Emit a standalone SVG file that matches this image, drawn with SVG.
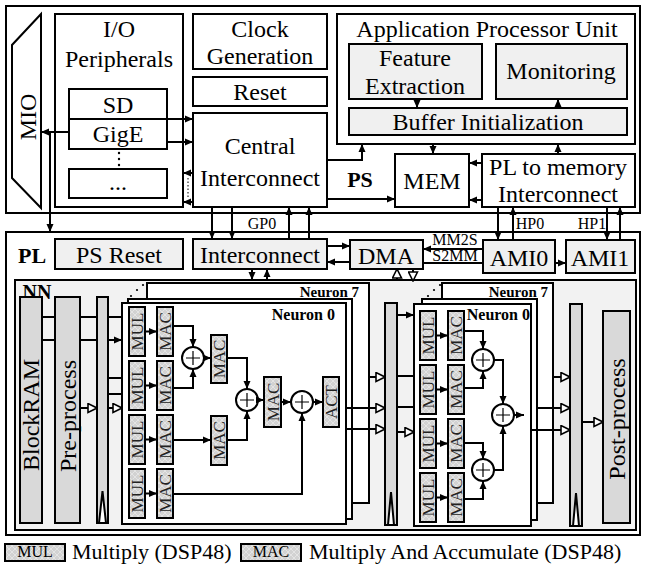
<svg xmlns="http://www.w3.org/2000/svg" width="645" height="569" viewBox="0 0 645 569">
<defs>
<style>
.b{fill:#fff;stroke:#000;stroke-width:2}
.g{fill:#f0f0f0;stroke:#000;stroke-width:2}
.nn{fill:#f2f2f2;stroke:#000;stroke-width:2}
.d{fill:#d9d9d9;stroke:#000;stroke-width:2}
.u{fill:url(#hatch);stroke:#000;stroke-width:2}
.c{fill:none;stroke:#000;stroke-width:2}
.ca{fill:none;stroke:#000;stroke-width:2;marker-end:url(#a)}
.ch{fill:none;stroke:#000;stroke-width:2;marker-end:url(#h)}
.t{font-family:"Liberation Serif",serif;font-size:24px;text-anchor:middle;fill:#000}
.s{font-family:"Liberation Serif",serif;font-size:16px;text-anchor:middle;fill:#000}
.bl{font-family:"Liberation Serif",serif;font-weight:bold;fill:#000}
.mt{font-family:"Liberation Serif",serif;font-size:17px;text-anchor:middle;fill:#222}
.lg{font-family:"Liberation Serif",serif;font-size:22px;fill:#000}
</style>
<pattern id="hatch" width="6" height="6" patternUnits="userSpaceOnUse">
<rect width="6" height="6" fill="#d2d2d2"/>
<path d="M0,0 L6,6 M6,0 L0,6" stroke="#e4e4e4" stroke-width="1"/>
</pattern>
<marker id="a" markerUnits="userSpaceOnUse" viewBox="0 0 8 8" markerWidth="8" markerHeight="8" refX="8" refY="4" orient="auto">
<path d="M0,0.5 L8,4 L0,7.5 z" fill="#000"/>
</marker>
<marker id="h" markerUnits="userSpaceOnUse" viewBox="-1 -1 11 11" markerWidth="11" markerHeight="11" refX="9" refY="4.5" orient="auto">
<path d="M0,0 L9,4.5 L0,9 z" fill="#fff" stroke="#000" stroke-width="1.6"/>
</marker>
</defs>

<rect width="645" height="569" fill="#fff"/>

<g id="ps">
<rect class="b" x="6" y="6" width="634" height="207"/>
<text class="bl" x="360" y="187" font-size="22" text-anchor="middle">PS</text>
</g>
<g id="mio">
<polygon class="b" points="41,14 12,45 12,178 41,208"/>
<text class="t" transform="translate(28,117) rotate(-90)" y="8">MIO</text>
</g>
<g id="io-peripherals">
<rect class="b" x="55" y="14" width="128" height="193"/>
<text class="t" x="119" y="37">I/O</text>
<text class="t" x="119" y="67">Peripherals</text>
<circle cx="119" cy="153" r="1.2"/><circle cx="119" cy="159" r="1.2"/><circle cx="119" cy="165" r="1.2"/>
</g>
<g id="sd">
<rect class="b" x="69" y="89" width="98" height="30"/>
<text class="t" x="118" y="113">SD</text>
</g>
<g id="gige">
<rect class="b" x="69" y="119" width="98" height="30"/>
<text class="t" x="118" y="142">GigE</text>
</g>
<g id="io-more">
<rect class="b" x="69" y="169" width="98" height="29"/>
<text class="t" x="118" y="190">...</text>
</g>
<g id="clock">
<rect class="b" x="193" y="14" width="134" height="55"/>
<text class="t" x="260" y="37">Clock</text>
<text class="t" x="260" y="64">Generation</text>
</g>
<g id="reset">
<rect class="b" x="193" y="77" width="134" height="29"/>
<text class="t" x="260" y="100">Reset</text>
</g>
<g id="central">
<rect class="b" x="193" y="113" width="134" height="94"/>
<text class="t" x="260" y="154">Central</text>
<text class="t" x="260" y="186">Interconnect</text>
</g>
<g id="apu">
<rect class="b" x="337" y="14" width="298" height="130"/>
<text class="t" x="487" y="37">Application Processor Unit</text>
</g>
<g id="feature">
<rect class="g" x="349" y="44" width="133" height="55"/>
<text class="t" x="415" y="66">Feature</text>
<text class="t" x="415" y="94">Extraction</text>
</g>
<g id="monitoring">
<rect class="g" x="496" y="44" width="131" height="55"/>
<text class="t" x="561" y="79">Monitoring</text>
</g>
<g id="buffer">
<rect class="g" x="349" y="108" width="278" height="27"/>
<text class="t" x="488" y="130">Buffer Initialization</text>
</g>
<g id="mem">
<rect class="b" x="395" y="154" width="74" height="53"/>
<text class="t" x="432" y="189">MEM</text>
</g>
<g id="pl2mem">
<rect class="b" x="482" y="154" width="153" height="53"/>
<text class="t" x="558" y="175">PL to memory</text>
<text class="t" x="558" y="202">Interconnect</text>
</g>

<g id="pl">
<rect class="b" x="6" y="232" width="634" height="303"/>
<text class="bl" x="32" y="263" font-size="22" text-anchor="middle">PL</text>
</g>
<g id="ps-reset">
<rect class="g" x="55" y="239" width="128" height="30"/>
<text class="t" x="119" y="263">PS Reset</text>
</g>
<g id="interconnect">
<rect class="g" x="193" y="239" width="134" height="30"/>
<text class="t" x="260" y="263">Interconnect</text>
</g>
<g id="dma">
<rect class="g" x="350" y="240" width="73" height="29"/>
<text class="t" x="386" y="264">DMA</text>
</g>
<g id="ami0">
<rect class="g" x="483" y="240" width="72" height="33"/>
<text class="t" x="519" y="266">AMI0</text>
</g>
<g id="ami1">
<rect class="g" x="566" y="240" width="69" height="33"/>
<text class="t" x="600" y="266">AMI1</text>
</g>

<g id="nn">
<rect class="nn" x="15" y="280" width="621" height="250"/>
<text class="bl" x="37" y="299" font-size="20" text-anchor="middle">NN</text>
</g>
<g id="blockram">
<rect class="d" x="20" y="297" width="22" height="226"/>
<text class="t" transform="translate(31,415) rotate(-90)" y="8">BlockRAM</text>
</g>
<g id="preprocess">
<rect class="d" x="55" y="297" width="25" height="226"/>
<text class="t" transform="translate(67.5,416) rotate(-90)" y="8">Pre-process</text>
</g>
<g id="reg1">
<rect class="d" x="97" y="297" width="11" height="226"/>
<polygon class="b" points="99,523 102.5,491 106,523"/>
</g>

<g id="layer1">
<rect class="b" x="147" y="283" width="222" height="220"/>
<rect class="b" x="128" y="299" width="224" height="220"/>
<rect class="b" x="122" y="303" width="224" height="221"/>
<circle cx="131" cy="296" r="1.1"/><circle cx="137" cy="290" r="1.1"/><circle cx="143" cy="285" r="1.1"/>
<text class="bl" x="359" y="297" font-size="15" text-anchor="end">Neuron 7</text>
<text class="bl" x="335" y="320" font-size="16" text-anchor="end">Neuron 0</text>
<g id="l1-mul">
<rect class="u" x="129" y="307" width="16" height="49"/><text class="mt" transform="translate(137,331.5) rotate(-90)" y="6">MUL</text>
<rect class="u" x="129" y="361" width="16" height="49"/><text class="mt" transform="translate(137,385.5) rotate(-90)" y="6">MUL</text>
<rect class="u" x="129" y="415" width="16" height="49"/><text class="mt" transform="translate(137,439.5) rotate(-90)" y="6">MUL</text>
<rect class="u" x="129" y="469" width="16" height="49"/><text class="mt" transform="translate(137,493.5) rotate(-90)" y="6">MUL</text>
</g>
<g id="l1-mac">
<rect class="u" x="157" y="307" width="16" height="49"/><text class="mt" transform="translate(165,331.5) rotate(-90)" y="6">MAC</text>
<rect class="u" x="157" y="361" width="16" height="49"/><text class="mt" transform="translate(165,385.5) rotate(-90)" y="6">MAC</text>
<rect class="u" x="157" y="415" width="16" height="49"/><text class="mt" transform="translate(165,439.5) rotate(-90)" y="6">MAC</text>
<rect class="u" x="157" y="469" width="16" height="49"/><text class="mt" transform="translate(165,493.5) rotate(-90)" y="6">MAC</text>
<rect class="u" x="211" y="335" width="16" height="48"/><text class="mt" transform="translate(219,359) rotate(-90)" y="6">MAC</text>
<rect class="u" x="211" y="416" width="16" height="49"/><text class="mt" transform="translate(219,440.5) rotate(-90)" y="6">MAC</text>
<rect class="u" x="264" y="377" width="17" height="50"/><text class="mt" transform="translate(272.5,402) rotate(-90)" y="6">MAC</text>
<rect class="u" x="323" y="377" width="16" height="50"/><text class="mt" transform="translate(331,402) rotate(-90)" y="6">ACT</text>
</g>
<g id="l1-add">
<circle class="b" cx="193" cy="358" r="11"/><path d="M186,358 H200 M193,351 V365" stroke="#000" stroke-width="1.2"/>
<circle class="b" cx="247" cy="400" r="11"/><path d="M240,400 H254 M247,393 V407" stroke="#000" stroke-width="1.2"/>
<circle class="b" cx="302" cy="402" r="11"/><path d="M295,402 H309 M302,395 V409" stroke="#000" stroke-width="1.2"/>
</g>
</g>

<g id="reg2">
<rect class="d" x="385" y="303" width="12" height="222"/>
<polygon class="b" points="388,525 391,492 394,525"/>
</g>

<g id="layer2">
<rect class="b" x="442" y="283" width="111" height="220"/>
<rect class="b" x="422" y="299" width="115" height="221"/>
<rect class="b" x="414" y="304" width="117" height="222"/>
<circle cx="428" cy="296" r="1.1"/><circle cx="434" cy="290" r="1.1"/><circle cx="440" cy="285" r="1.1"/>
<text class="bl" x="548" y="297" font-size="15" text-anchor="end">Neuron 7</text>
<text class="bl" x="530" y="320" font-size="16" text-anchor="end">Neuron 0</text>
<g id="l2-mul">
<rect class="u" x="420" y="311" width="16" height="49"/><text class="mt" transform="translate(428,335.5) rotate(-90)" y="6">MUL</text>
<rect class="u" x="420" y="365" width="16" height="49"/><text class="mt" transform="translate(428,389.5) rotate(-90)" y="6">MUL</text>
<rect class="u" x="420" y="419" width="16" height="49"/><text class="mt" transform="translate(428,443.5) rotate(-90)" y="6">MUL</text>
<rect class="u" x="420" y="473" width="16" height="49"/><text class="mt" transform="translate(428,497.5) rotate(-90)" y="6">MUL</text>
</g>
<g id="l2-mac">
<rect class="u" x="448" y="311" width="16" height="49"/><text class="mt" transform="translate(456,335.5) rotate(-90)" y="6">MAC</text>
<rect class="u" x="448" y="365" width="16" height="49"/><text class="mt" transform="translate(456,389.5) rotate(-90)" y="6">MAC</text>
<rect class="u" x="448" y="419" width="16" height="49"/><text class="mt" transform="translate(456,443.5) rotate(-90)" y="6">MAC</text>
<rect class="u" x="448" y="473" width="16" height="49"/><text class="mt" transform="translate(456,497.5) rotate(-90)" y="6">MAC</text>
</g>
<g id="l2-add">
<circle class="b" cx="483" cy="360" r="11"/><path d="M476,360 H490 M483,353 V367" stroke="#000" stroke-width="1.2"/>
<circle class="b" cx="483" cy="470" r="11"/><path d="M476,470 H490 M483,463 V477" stroke="#000" stroke-width="1.2"/>
<circle class="b" cx="503" cy="415" r="11"/><path d="M496,415 H510 M503,408 V422" stroke="#000" stroke-width="1.2"/>
</g>
</g>

<g id="reg3">
<rect class="d" x="570" y="304" width="12" height="222"/>
<polygon class="b" points="573,526 576,493 579,526"/>
</g>
<g id="postprocess">
<rect class="d" x="603" y="311" width="27" height="212"/>
<text class="t" transform="translate(617,419) rotate(-90)" y="8">Post-process</text>
</g>

<g id="legend">
<rect class="u" x="5" y="544" width="60" height="17"/>
<text class="s" x="35" y="557" font-size="14" fill="#222">MUL</text>
<text class="lg" x="72" y="559">Multiply (DSP48)</text>
<rect class="u" x="241" y="544" width="60" height="17"/>
<text class="s" x="271" y="557" font-size="14" fill="#222">MAC</text>
<text class="lg" x="309" y="559">Multiply And Accumulate (DSP48)</text>
</g>

<g id="labels">
<text class="s" x="262" y="229">GP0</text>
<text class="s" x="530" y="229">HP0</text>
<text class="s" x="592" y="229">HP1</text>
<text class="s" x="455" y="245" font-size="13">MM2S</text>
<text class="s" x="455" y="261" font-size="13">S2MM</text>
</g>

<g id="connectors">
<path class="ca" d="M69,132 H41"/>
<path class="ca" d="M50,132 V232"/>
<path class="ca" d="M167,119 H193"/>
<path class="ca" d="M167,142 H193"/>
<path class="ca" d="M193,173 H183"/>
<path class="ca" d="M193,202 H183"/>
<path d="M188,178 V199" stroke="#000" stroke-width="1" stroke-dasharray="1.5,2" fill="none"/>
<path class="ca" d="M327,160 H362 V144"/>
<path class="ca" d="M327,199 H395"/>
<path class="ca" d="M417,99 V108"/>
<path class="ca" d="M558,108 V99"/>
<path class="ca" d="M433,144 V154"/>
<path class="ca" d="M558,154 V144"/>
<path class="ca" d="M482,163 H469"/>
<path class="ca" d="M482,200 H469"/>
<path class="ca" d="M212,207 V239"/>
<path class="ca" d="M232,207 V239"/>
<path class="ca" d="M289,239 V207"/>
<path class="ca" d="M309,239 V207"/>
<path class="ca" d="M498,207 V240"/>
<path class="ca" d="M513,240 V207"/>
<path class="ca" d="M607,207 V240"/>
<path class="ca" d="M620,240 V207"/>
<path class="ca" d="M327,246 H350"/>
<path class="ca" d="M350,262 H327"/>
<path class="ca" d="M483,249 H423"/>
<path class="c" d="M423,263 H483"/>
<path class="ca" d="M555,263 H566"/>
<path class="ca" d="M252,269 V280"/>
<path class="ca" d="M267,280 V269"/>
<path class="ch" d="M397,281 V269"/>
<path class="ch" d="M413,269 V281"/>
<path class="c" d="M42,317 H55 M42,340 H55"/>
<path class="c" d="M80,317 H97 M80,340 H97"/>
<path class="ch" d="M80,408 H97"/>
<path class="c" d="M108,317 H122 M108,378 H122 M108,394 H122"/>
<path class="ca" d="M108,340 H122"/>
<path class="ch" d="M108,408 H122"/>
<path class="ca" d="M145,331.5 H157"/>
<path class="ca" d="M145,385.5 H157"/>
<path class="ca" d="M145,439.5 H157"/>
<path class="ca" d="M145,493.5 H157"/>
<path class="ca" d="M173,326 H193 V347"/>
<path class="ca" d="M173,388 H193 V369"/>
<path class="ca" d="M204,358 H211"/>
<path class="ca" d="M227,358 H247 V389"/>
<path class="ca" d="M173,440 H211"/>
<path class="ca" d="M227,440 H247 V411"/>
<path class="ca" d="M258,400 H264"/>
<path class="ca" d="M281,402 H291"/>
<path class="ca" d="M173,494 H302 V413"/>
<path class="ca" d="M313,402 H323"/>
<path class="ch" d="M369,377 H385"/>
<path class="ch" d="M346,408 H385"/>
<path class="ch" d="M346,429 H385"/>
<path class="ca" d="M397,315 H414"/>
<path class="c" d="M397,376 H414 M397,407 H414"/>
<path class="ch" d="M397,432 H414"/>
<path class="ca" d="M436,335.5 H448"/>
<path class="ca" d="M436,389.5 H448"/>
<path class="ca" d="M436,443.5 H448"/>
<path class="ca" d="M436,497.5 H448"/>
<path class="ca" d="M464,331 H483 V349"/>
<path class="ca" d="M464,388 H483 V371"/>
<path class="ca" d="M464,443 H483 V459"/>
<path class="ca" d="M464,499 H483 V481"/>
<path class="ca" d="M494,360 H503 V404"/>
<path class="ca" d="M494,470 H503 V426"/>
<path class="ca" d="M514,415 H524"/>
<path class="ch" d="M553,377 H570"/>
<path class="ch" d="M537,408 H570"/>
<path class="ch" d="M531,430 H570"/>
<path class="ch" d="M582,422 H603"/>
</g>
</svg>
